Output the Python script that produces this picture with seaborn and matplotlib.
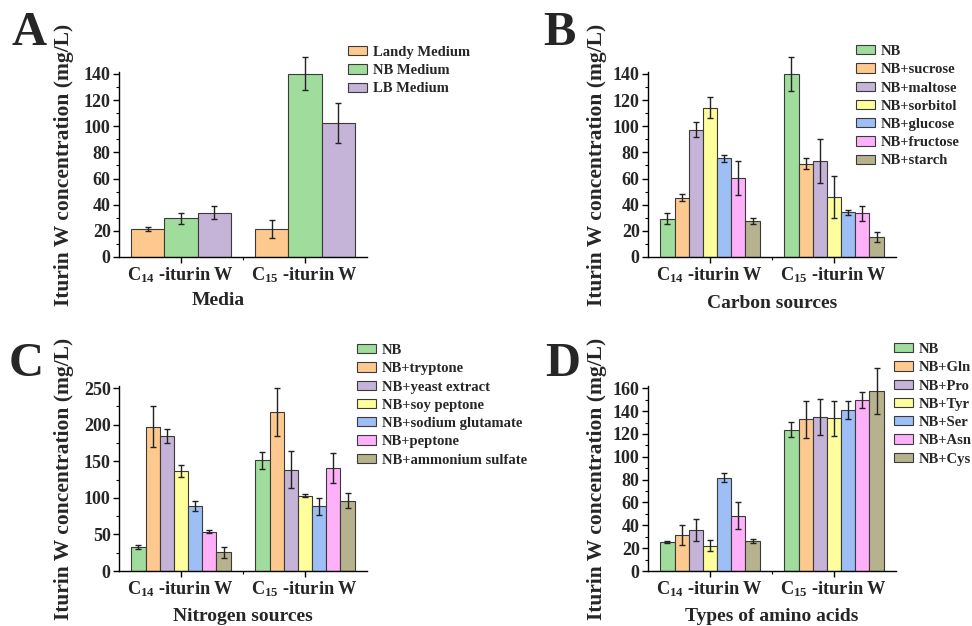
import numpy as np
import pandas as pd
import matplotlib
matplotlib.use("Agg")
import matplotlib.pyplot as plt
import seaborn as sns
from matplotlib.ticker import MultipleLocator

sns.set_theme(style="ticks")
plt.rcParams["font.family"] = ["Liberation Serif", "DejaVu Serif"]
plt.rcParams["font.weight"] = "bold"
plt.rcParams["axes.labelweight"] = "bold"
plt.rcParams["mathtext.fontset"] = "custom"
plt.rcParams["mathtext.rm"] = "Liberation Serif"
plt.rcParams["mathtext.it"] = "Liberation Serif:italic"
plt.rcParams["mathtext.bf"] = "Liberation Serif:bold"

# x categories
groups = ["C$_{\\mathrm{14}}$ -iturin W", "C$_{\\mathrm{15}}$ -iturin W"]

# A: media
media_labels = ["Landy Medium", "NB Medium", "LB Medium"]
media_c14 = [21.5, 29.5, 33.7]
media_c14_err = [1.3, 4.5, 5.0]
media_c15 = [21.5, 140.0, 102.3]
media_c15_err = [6.6, 12.6, 15.4]

# B: carbon sources
carbon_labels = ["NB", "NB+sucrose", "NB+maltose", "NB+sorbitol",
                 "NB+glucose", "NB+fructose", "NB+starch"]
carbon_c14 = [29.4, 45.3, 97.5, 114.2, 75.5, 60.4, 27.9]
carbon_c14_err = [4.5, 2.8, 5.6, 7.8, 2.8, 12.7, 2.3]
carbon_c15 = [140.0, 71.4, 73.5, 46.1, 34.3, 33.3, 15.4]
carbon_c15_err = [12.7, 4.0, 16.8, 16.0, 1.9, 6.0, 4.1]

# C: nitrogen sources
nitrogen_labels = ["NB", "NB+tryptone", "NB+yeast extract", "NB+soy peptone",
                   "NB+sodium glutamate", "NB+peptone", "NB+ammonium sulfate"]
nitrogen_c14 = [32.8, 197.5, 184.8, 137.3, 89.0, 53.8, 25.5]
nitrogen_c14_err = [2.3, 28.0, 10.0, 8.2, 7.3, 2.5, 7.5]
nitrogen_c15 = [151.5, 217.2, 138.7, 103.1, 88.5, 141.4, 96.3]
nitrogen_c15_err = [11.4, 33.0, 25.5, 1.8, 11.6, 20.5, 10.7]

# D: amino acids
amino_labels = ["NB", "NB+Gln", "NB+Pro", "NB+Tyr", "NB+Ser", "NB+Asn", "NB+Cys"]
amino_c14 = [25.5, 31.6, 35.8, 22.3, 81.8, 48.4, 26.4]
amino_c14_err = [1.2, 8.8, 9.4, 4.8, 3.7, 11.7, 2.0]
amino_c15 = [123.7, 132.7, 134.5, 133.6, 141.0, 149.7, 157.7]
amino_c15_err = [6.7, 16.0, 15.8, 15.4, 7.6, 7.3, 20.0]

GREEN, ORANGE, PURPLE = "#a0dc9c", "#fec98e", "#c6b3d8"
YELLOW, BLUE, PINK, OLIVE = "#fefe9c", "#9dbff5", "#feb0f8", "#b6b28e"
seven_colors = [GREEN, ORANGE, PURPLE, YELLOW, BLUE, PINK, OLIVE]

fig = plt.figure(figsize=(9.72, 6.26), dpi=100)
W, H = 972.0, 626.0


def draw_panel(rect_px, labels, c14, c14_err, c15, c15_err, colors, ymax,
               major, minor, xlabel, xlabel_pos, ylabel_x, letter, letter_px,
               legend_px):
    left, bottom, right, top = rect_px
    ax = fig.add_axes([left / W, 1 - bottom / H, (right - left) / W, (bottom - top) / H])

    n = len(labels)
    df = pd.DataFrame({
        "group": [groups[0]] * n + [groups[1]] * n,
        "condition": labels * 2,
        "value": c14 + c15,
    })
    sns.barplot(data=df, x="group", y="value", hue="condition", order=groups,
                hue_order=labels, palette=colors, saturation=1, errorbar=None,
                edgecolor="#3a3a3a", linewidth=0.8, ax=ax)

    # error bars on top of the seaborn bars (allowed to poke above the axis)
    bar_sets = list(ax.containers)
    for i, cont in enumerate(bar_sets):
        xs = [b.get_x() + b.get_width() / 2 for b in cont]
        eb = ax.errorbar(xs, [c14[i], c15[i]], yerr=[c14_err[i], c15_err[i]],
                         fmt="none", ecolor="#222222", elinewidth=1, capsize=2.5,
                         capthick=1, zorder=5)
        for art in list(eb[1]) + list(eb[2]):
            art.set_clip_on(False)

    ax.set_xlim(-0.5, 1.5)
    ax.set_ylim(0, ymax)
    ax.yaxis.set_major_locator(MultipleLocator(major))
    ax.yaxis.set_minor_locator(MultipleLocator(minor))
    ax.set_xticks([0.5], minor=True)
    sns.despine(ax=ax)
    for s in ["left", "bottom"]:
        ax.spines[s].set_color("black")
        ax.spines[s].set_linewidth(1)
    ax.tick_params(axis="both", which="major", direction="out", length=4,
                   width=1, color="black", labelsize=13, pad=2)
    ax.tick_params(axis="both", which="minor", direction="out", length=2,
                   width=0.8, color="black")
    ax.tick_params(axis="x", labelsize=13.2)

    ax.set_ylabel("Iturin W concentration (mg/L)", fontsize=15.5, fontweight="bold")
    ax.yaxis.set_label_coords(ylabel_x, 0.5)
    ax.set_xlabel(xlabel, fontsize=14, fontweight="bold")
    ax.xaxis.set_label_coords(*xlabel_pos)

    ax.legend(loc="upper left", bbox_to_anchor=(legend_px[0] / W, 1 - legend_px[1] / H),
              bbox_transform=fig.transFigure, frameon=False, borderpad=0,
              borderaxespad=0, handlelength=1.3, handleheight=0.6,
              handletextpad=0.4, labelspacing=0.36,
              prop={"weight": "bold", "size": 10.5})
    for h in ax.get_legend().legend_handles:
        h.set_edgecolor("#3a3a3a")
        h.set_linewidth(0.8)

    fig.text(letter_px[0] / W, 1 - letter_px[1] / H, letter, fontsize=35,
             fontweight="bold", ha="left", va="baseline")
    return ax


draw_panel((119, 257, 367, 72), media_labels, media_c14, media_c14_err,
           media_c15, media_c15_err, [ORANGE, GREEN, PURPLE], 141.5, 20, 10,
           "Media", (0.4, -0.19), -0.18, "A", (11, 45), (348, 46))
draw_panel((648, 257, 896, 72), carbon_labels, carbon_c14, carbon_c14_err,
           carbon_c15, carbon_c15_err, seven_colors, 141.5, 20, 10,
           "Carbon sources", (0.5, -0.205), -0.166, "B", (543, 45), (856, 45))
draw_panel((119, 571, 367, 386), nitrogen_labels, nitrogen_c14, nitrogen_c14_err,
           nitrogen_c15, nitrogen_c15_err, seven_colors, 253, 50, 25,
           "Nitrogen sources", (0.5, -0.2), -0.18, "C", (9, 376), (357, 344))
draw_panel((648, 571, 896, 386), amino_labels, amino_c14, amino_c14_err,
           amino_c15, amino_c15_err, seven_colors, 162, 20, 10,
           "Types of amino acids", (0.5, -0.2), -0.166, "D", (545, 376), (894, 343))

fig.savefig("out.png", dpi=100)
